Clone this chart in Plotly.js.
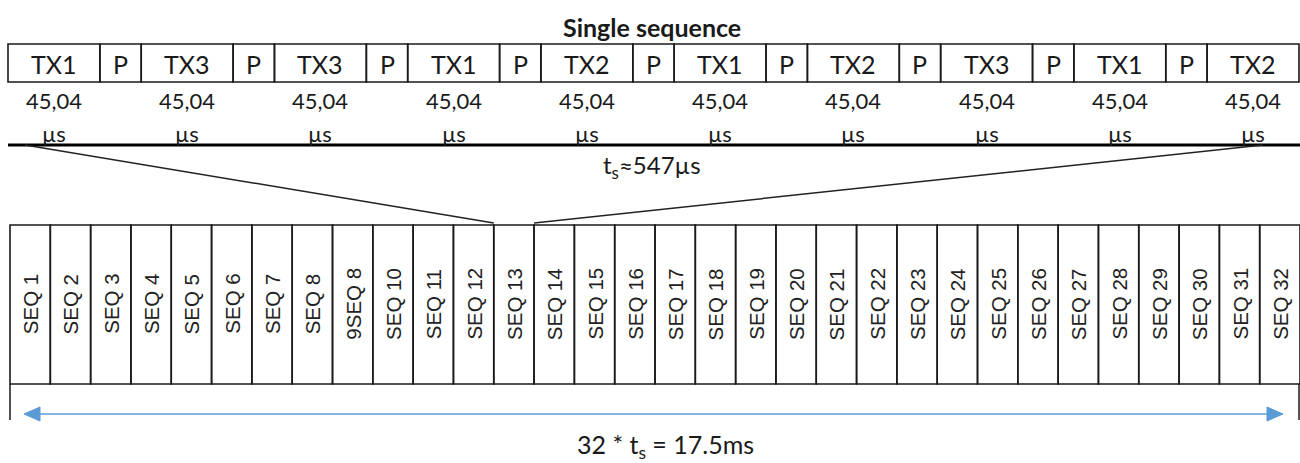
<!DOCTYPE html>
<html>
<head>
<meta charset="utf-8">
<script src="https://cdn.plot.ly/plotly-3.0.1.min.js"></script>
<style>html,body{margin:0;padding:0;background:#fff;}#chart{width:1300px;height:463px;}</style>
</head>
<body>
<div id="chart"></div>
<script>
// ---- data ----
const title = "Single sequence";
const blockLabels = ["TX1","P","TX3","P","TX3","P","TX1","P","TX2","P","TX1","P","TX2","P","TX3","P","TX1","P","TX2"];
const txDurationValue = "45,04";
const txDurationUnit = "µs";
const sequenceTimeLabel = "t<sub>s</sub>≈547µs";
const seqLabels = ["SEQ 1","SEQ 2","SEQ 3","SEQ 4","SEQ 5","SEQ 6","SEQ 7","SEQ 8","9SEQ 8","SEQ 10",
  "SEQ 11","SEQ 12","SEQ 13","SEQ 14","SEQ 15","SEQ 16","SEQ 17","SEQ 18","SEQ 19","SEQ 20",
  "SEQ 21","SEQ 22","SEQ 23","SEQ 24","SEQ 25","SEQ 26","SEQ 27","SEQ 28","SEQ 29","SEQ 30","SEQ 31","SEQ 32"];
const zoomedSeq = "SEQ 13";
const totalLabel = "32 * t<sub>s</sub> = 17.5ms";

// ---- layout geometry ----
const W = 1300, H = 463;
const topX0 = 8, topX1 = 1299, topY0 = 44, topY1 = 82;
const pRatio = 0.45;
const nTx = blockLabels.filter(l => l !== "P").length;
const nP = blockLabels.length - nTx;
const txW = (topX1 - topX0) / (nTx + nP * pRatio);
const pW = txW * pRatio;
const lineY = 145;
const seqX0 = 10, seqX1 = 1300, seqY0 = 225, seqY1 = 384;
const cellW = (seqX1 - seqX0) / seqLabels.length;
const arrowY = 414;
const blue = "#5B9BD5";
const ink = "#1a1a1a";
const topFont = "Lato, 'Open Sans', sans-serif";
const seqFont = "'Liberation Sans', Arial, sans-serif";

const shapes = [];
const annotations = [];

annotations.push({x: 652, y: 27, xref:'x', yref:'y', text: "<b>"+title+"</b>", showarrow:false,
  font:{family: topFont, size: 25, color: ink}});

let cx = topX0;
blockLabels.forEach(lbl => {
  const w = lbl === "P" ? pW : txW;
  shapes.push({type:'rect', xref:'x', yref:'y', x0: cx, x1: cx + w, y0: topY0, y1: topY1,
    line:{color: ink, width: 1.6}, fillcolor:'rgba(0,0,0,0)'});
  annotations.push({x: cx + w/2, y: 64, xref:'x', yref:'y', text: lbl, showarrow:false,
    font:{family: topFont, size: 25, color: ink}});
  if (lbl !== "P") {
    annotations.push({x: cx + w/2, y: 100, xref:'x', yref:'y', text: txDurationValue, showarrow:false,
      font:{family: topFont, size: 22, color: ink}});
    annotations.push({x: cx + w/2, y: 133, xref:'x', yref:'y', text: txDurationUnit, showarrow:false,
      font:{family: topFont, size: 22, color: ink}});
  }
  cx += w;
});

shapes.push({type:'line', xref:'x', yref:'y', x0: topX0, x1: W, y0: lineY, y1: lineY, line:{color:'#000', width:3}});

annotations.push({x: 652, y: 166, xref:'x', yref:'y', text: sequenceTimeLabel, showarrow:false,
  font:{family: topFont, size: 24, color: ink}});

seqLabels.forEach((lbl, i) => {
  const x0 = seqX0 + i * cellW;
  shapes.push({type:'rect', xref:'x', yref:'y', x0: x0, x1: x0 + cellW, y0: seqY0, y1: seqY1,
    line:{color: ink, width: 1.6}, fillcolor:'rgba(0,0,0,0)'});
  annotations.push({x: x0 + cellW/2, y: 304, xref:'x', yref:'y', text: lbl, showarrow:false, textangle: -90,
    font:{family: seqFont, size: 20.5, color: '#222'}});
});

// zoom lines from the single sequence to SEQ 13
const zi = seqLabels.indexOf(zoomedSeq);
const zl = seqX0 + zi * cellW, zr = zl + cellW;
shapes.push({type:'line', xref:'x', yref:'y', x0: 25, y0: lineY, x1: zl, y1: seqY0 - 2, line:{color:'#222', width:1.5}});
shapes.push({type:'line', xref:'x', yref:'y', x0: 1263, y0: lineY, x1: zr, y1: seqY0 - 2, line:{color:'#222', width:1.5}});

// bracket ends
shapes.push({type:'line', xref:'x', yref:'y', x0: seqX0, x1: seqX0, y0: seqY1, y1: 420, line:{color: ink, width:1.5}});
shapes.push({type:'line', xref:'x', yref:'y', x0: seqX1 - 1, x1: seqX1 - 1, y0: seqY1, y1: 420, line:{color: ink, width:1.5}});

// double arrow
const aL = 24, aR = 1283, head = 16, hh = 7;
shapes.push({type:'line', xref:'x', yref:'y', x0: aL + head - 2, x1: aR - head + 2, y0: arrowY, y1: arrowY, line:{color: blue, width:1.5}});
shapes.push({type:'path', xref:'x', yref:'y', path:`M${aL},${arrowY} L${aL+head},${arrowY-hh} L${aL+head},${arrowY+hh} Z`, fillcolor: blue, line:{color: blue, width:1}});
shapes.push({type:'path', xref:'x', yref:'y', path:`M${aR},${arrowY} L${aR-head},${arrowY-hh} L${aR-head},${arrowY+hh} Z`, fillcolor: blue, line:{color: blue, width:1}});

annotations.push({x: 665, y: 446, xref:'x', yref:'y', text: totalLabel, showarrow:false,
  font:{family: topFont, size: 25, color: ink}});

const layout = {
  width: W, height: H,
  margin: {l:0, r:0, t:0, b:0},
  paper_bgcolor: '#fff', plot_bgcolor: '#fff',
  xaxis: {range:[0, W], visible:false, fixedrange:true},
  yaxis: {range:[H, 0], visible:false, fixedrange:true},
  showlegend: false,
  shapes: shapes,
  annotations: annotations
};
Plotly.newPlot('chart', [], layout, {staticPlot:true, displayModeBar:false});
</script>
</body>
</html>
